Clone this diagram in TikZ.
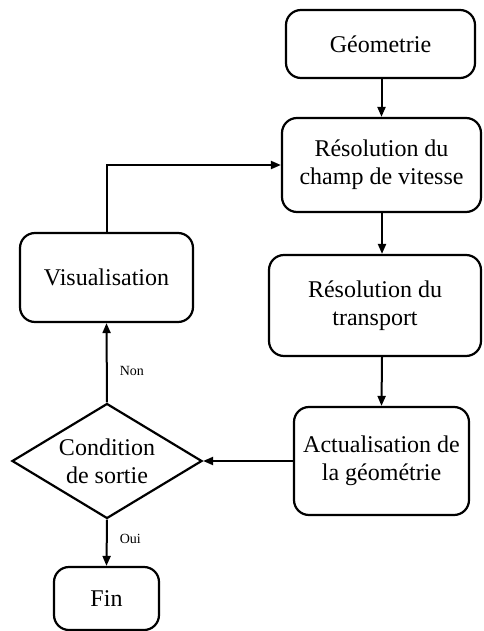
\documentclass[tikz,border=0pt]{standalone}
\usepackage{fontspec}
\setmainfont{Liberation Serif}
\usetikzlibrary{shapes.geometric,arrows.meta}
\begin{document}
\begin{tikzpicture}[x=1pt,y=-1pt,
  box/.style={draw, line width=2.2pt, rounded corners=15pt, align=center, inner sep=0pt,
    font=\fontsize{24}{28}\selectfont},
  cond/.style={draw, diamond, line width=2.2pt, inner sep=0pt,
    minimum width=190pt, minimum height=115pt},
  condtext/.style={align=center, inner sep=0pt, font=\fontsize{24}{28}\selectfont},
  conn/.style={line width=2pt, -{Triangle[length=10pt,width=8pt]}},
  lbl/.style={font=\fontsize{14}{16}\selectfont, inner sep=0pt}]
\useasboundingbox (0,0) rectangle (483,631);
\node[box, minimum width=189pt, minimum height=68pt] (geo) at (380.5,44) {Géometrie};
\node[box, minimum width=199pt, minimum height=94pt] (champ) at (381.5,165) {Résolution du\\champ de vitesse};
\node[box, minimum width=212pt, minimum height=101pt] (trans) at (375,305.5) {Résolution du\\transport};
\node[box, minimum width=175pt, minimum height=108pt] (actu) at (381.5,461) {Actualisation de\\la géométrie};
\node[box, minimum width=173pt, minimum height=89pt] (visu) at (106.5,277.5) {Visualisation};
\node[cond, label={[condtext]center:Condition\\de sortie}] (dia) at (107,461) {};
\node[box, minimum width=105pt, minimum height=63pt] (fin) at (106.5,598.5) {Fin};
\draw[conn] (geo.south -| champ.north) -- (champ.north);
\draw[conn] (champ.south -| 382,0) -- (382,0 |- trans.north);
\draw[conn] (382,0 |- trans.south) -- (actu.north);
\draw[conn] (actu.west) -- (dia.east);
\draw[conn] (dia.north) -- node[lbl, right=12pt, pos=0.4] (non) {Non} (visu.south);
\draw[conn] (visu.north) |- (champ.west);
\draw[conn] (dia.south) -- node[lbl, right=12pt, pos=0.42] (oui) {Oui} (fin.north);
\end{tikzpicture}
\end{document}
